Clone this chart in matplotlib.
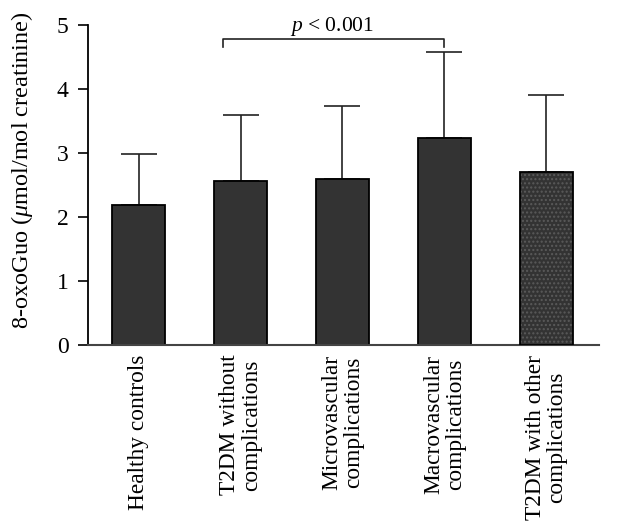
import matplotlib
matplotlib.use("Agg")
import matplotlib.pyplot as plt
import numpy as np

categories = ["Healthy controls", "T2DM without\ncomplications", "Microvascular\ncomplications",
              "Macrovascular\ncomplications", "T2DM with other\ncomplications"]
means = [2.18, 2.57, 2.59, 3.24, 2.71]
sds = [0.80, 1.02, 1.14, 1.34, 1.19]
yticks = [0, 1, 2, 3, 4, 5]
sig_label = "p < 0.001"

plt.rcParams['font.family'] = ['Liberation Serif', 'DejaVu Serif']
plt.rcParams['mathtext.fontset'] = 'custom'
plt.rcParams['mathtext.it'] = 'Liberation Serif:italic'
plt.rcParams['mathtext.rm'] = 'Liberation Serif'

fig = plt.figure(figsize=(6.43, 5.25), dpi=100)
ax = fig.add_axes([88/643, 180/525, 511/643, 320/525])

x = np.arange(len(categories))
w = 0.52
ax.bar(x[:4], means[:4], width=w, color='#333333', edgecolor='black', linewidth=1.3, zorder=2)
ax.bar(x[4], means[4], width=w, color='#333333', edgecolor='#5a5a5a', hatch='....', linewidth=0, zorder=2)
ax.bar(x[4], means[4], width=w, fill=False, edgecolor='black', linewidth=1.3, zorder=3)
ax.errorbar(x, means, yerr=[np.zeros(len(sds)), sds], fmt='none', ecolor='#222222',
            elinewidth=1.2, capsize=13, capthick=1.2, zorder=1)

ax.set_xlim(-0.5, 4.52)
ax.set_ylim(0, 5)
ax.set_yticks(yticks)
ax.set_xticks(x)
ax.set_xticklabels(categories, rotation=90, fontsize=16.8, linespacing=1.05)
ax.tick_params(axis='x', length=0, pad=7)
ax.tick_params(axis='y', length=7, width=1.2, labelsize=17, pad=7, direction='out')
for s in ['top', 'right']:
    ax.spines[s].set_visible(False)
ax.spines['left'].set_linewidth(1.3)
ax.spines['bottom'].set_linewidth(1.5)
ax.spines['bottom'].set_color('#444444')

ax.set_ylabel(r"8-oxoGuo ($\mathit{\mu}$mol/mol creatinine)", fontsize=17.5)
ax.yaxis.set_label_coords(-0.103, 0.545)

# significance bracket
x1, x2 = 1 - 0.17, 3
yt = 4.78
ax.plot([x1, x1, x2, x2], [yt - 0.12, yt, yt, yt - 0.12], color='#222222', lw=1.2, clip_on=False)
ax.text((x1 + x2) / 2 - 0.02, 4.98, r"$\mathit{p}$ < 0.001", ha='center', va='center', fontsize=15.5)

fig.savefig("out.png", dpi=100)
